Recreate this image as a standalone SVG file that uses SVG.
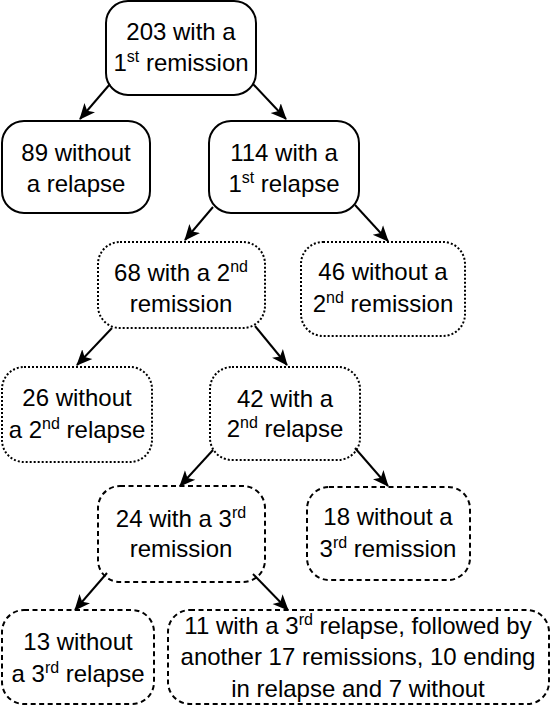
<svg xmlns="http://www.w3.org/2000/svg" width="551" height="706" viewBox="0 0 551 706">
<style>
  .box{fill:#fff;stroke:#000;stroke-width:2}
  .dot{stroke-dasharray:2,2}
  .dash{stroke-dasharray:5,3.5}
  text{font-family:"Liberation Sans",Arial,sans-serif;font-size:24px;fill:#000;text-anchor:middle}
  .sup{font-size:16px}
  .conn line{stroke:#000;stroke-width:2;marker-end:url(#arr)}
</style>
<defs>
  <marker id="arr" viewBox="0 0 16 16" refX="15" refY="8" markerWidth="16" markerHeight="16" markerUnits="userSpaceOnUse" orient="auto">
    <path d="M0,1 L16,8 L0,15 L4,8 z" fill="#000"/>
  </marker>
</defs>
<rect width="551" height="706" fill="#fff"/>
<g id="n203">
  <rect class="box" x="106" y="1" width="150" height="94" rx="22"/>
  <text x="181" y="40">203 with a</text>
  <text x="181" y="71">1<tspan class="sup" dy="-9">st</tspan><tspan dy="9"> remission</tspan></text>
</g>
<g id="n89">
  <rect class="box" x="2" y="121" width="148" height="92" rx="22"/>
  <text x="76" y="161">89 without</text>
  <text x="76" y="192">a relapse</text>
</g>
<g id="n114">
  <rect class="box" x="209" y="121" width="150" height="92" rx="22"/>
  <text x="284" y="161">114 with a</text>
  <text x="284" y="192">1<tspan class="sup" dy="-9">st</tspan><tspan dy="9"> relapse</tspan></text>
</g>
<g id="n68">
  <rect class="box dot" x="98" y="242" width="167" height="86" rx="22"/>
  <text x="181" y="281">68 with a 2<tspan class="sup" dy="-9">nd</tspan></text>
  <text x="181" y="312">remission</text>
</g>
<g id="n46">
  <rect class="box dot" x="301" y="242" width="164" height="94" rx="22"/>
  <text x="383" y="280">46 without a</text>
  <text x="383" y="312">2<tspan class="sup" dy="-9">nd</tspan><tspan dy="9"> remission</tspan></text>
</g>
<g id="n26">
  <rect class="box dot" x="2" y="367" width="150" height="95" rx="22"/>
  <text x="77" y="406">26 without</text>
  <text x="77" y="438">a 2<tspan class="sup" dy="-9">nd</tspan><tspan dy="9"> relapse</tspan></text>
</g>
<g id="n42">
  <rect class="box dot" x="210" y="367" width="150" height="93" rx="22"/>
  <text x="285" y="407">42 with a</text>
  <text x="285" y="437">2<tspan class="sup" dy="-9">nd</tspan><tspan dy="9"> relapse</tspan></text>
</g>
<g id="n24">
  <rect class="box dash" x="98" y="486" width="167" height="96" rx="22"/>
  <text x="181" y="527">24 with a 3<tspan class="sup" dy="-9">rd</tspan></text>
  <text x="181" y="557">remission</text>
</g>
<g id="n18">
  <rect class="box dash" x="307" y="487" width="163" height="93" rx="22"/>
  <text x="388" y="525">18 without a</text>
  <text x="388" y="557">3<tspan class="sup" dy="-9">rd</tspan><tspan dy="9"> remission</tspan></text>
</g>
<g id="n13">
  <rect class="box dash" x="2" y="610" width="152" height="94" rx="22"/>
  <text x="78" y="650">13 without</text>
  <text x="78" y="682">a 3<tspan class="sup" dy="-9">rd</tspan><tspan dy="9"> relapse</tspan></text>
</g>
<g id="n11">
  <rect class="box dash" x="168" y="610" width="381" height="94" rx="22"/>
  <text x="358" y="634">11 with a 3<tspan class="sup" dy="-9">rd</tspan><tspan dy="9"> relapse, followed by</tspan></text>
  <text x="358" y="665">another 17 remissions, 10 ending</text>
  <text x="358" y="697">in relapse and 7 without</text>
</g>
<g id="connectors" class="conn">
  <line x1="110" y1="84" x2="80" y2="119"/>
  <line x1="253" y1="84" x2="286" y2="119"/>
  <line x1="213" y1="207" x2="185" y2="240"/>
  <line x1="355" y1="205" x2="388" y2="241"/>
  <line x1="112" y1="328" x2="77" y2="365"/>
  <line x1="255" y1="326" x2="287" y2="365"/>
  <line x1="213" y1="450" x2="180" y2="486"/>
  <line x1="355" y1="448" x2="388" y2="486"/>
  <line x1="107" y1="573" x2="75" y2="610"/>
  <line x1="253" y1="574" x2="288" y2="610"/>
</g>
</svg>
